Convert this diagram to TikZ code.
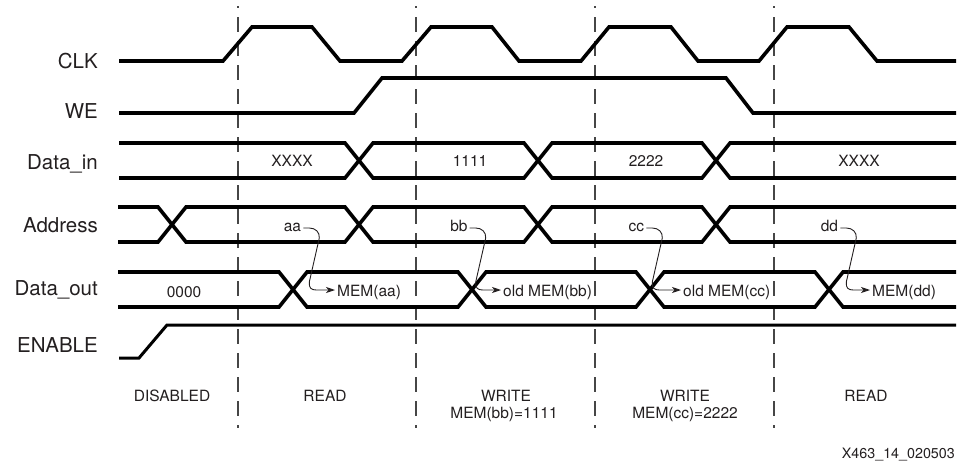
\documentclass[tikz,border=0pt]{standalone}
\usepackage{fontspec}
\setmainfont{TeX Gyre Heros}
\usetikzlibrary{arrows.meta,calc}
\definecolor{ink}{RGB}{35,31,32}
\definecolor{guide}{RGB}{70,70,70}
\begin{document}
\begin{tikzpicture}[x=1pt,y=-1pt,
  sig/.style={line width=3.6pt, black, line join=miter},
  ensig/.style={line width=3pt, black, line join=miter},
  guideline/.style={line width=1.4pt, guide, dash pattern=on 15pt off 9pt, dash phase=13pt},
  siglabel/.style={text=ink, font=\fontsize{20.5}{24}\selectfont, anchor=base east, inner sep=0pt},
  val/.style={text=ink, font=\fontsize{15.5}{18}\selectfont, anchor=base, inner sep=2pt},
  valw/.style={val, anchor=base west},
  vale/.style={val, anchor=base east},
  arr/.style={line width=0.9pt, ink, line join=round, -{Stealth[length=9pt,width=6pt,inset=2.5pt]}}
]
\useasboundingbox (0,0) rectangle (961,461);

% guide lines
\foreach \gx in {238,416,595,774}
  \draw[guideline] (\gx,6) -- (\gx,428);

% signal labels
\node[siglabel] (lclk)  at (98,68)  {CLK};
\node[siglabel] (lwe)   at (98,118) {WE};
\node[siglabel] (ldin)  at (98,169) {Data\_in};
\node[siglabel] (laddr) at (98,232) {Address};
\node[siglabel] (ldout) at (98,295) {Data\_out};
\node[siglabel] (len)   at (98,352) {ENABLE};

% CLK
\draw[sig] (119,61) -- (223,61) -- (252,27) -- (312,27) -- (340,61) -- (402,61) -- (431,27)
  -- (492,27) -- (519,61) -- (581,61) -- (609,27) -- (671,27) -- (698,61) -- (759,61)
  -- (787,27) -- (849,27) -- (877,61) -- (956,61);

% WE
\draw[sig] (119,113) -- (354,113) -- (382,78) -- (726,78) -- (753,113) -- (956,113);

% Data_in
\draw[sig] (119,143) -- (345,143) -- (373,178) -- (524,178) -- (552,143) -- (702,143) -- (730,178) -- (956,178);
\draw[sig] (119,178) -- (345,178) -- (373,143) -- (524,143) -- (552,178) -- (702,178) -- (730,143) -- (956,143);

% Address
\draw[sig] (118,207) -- (158,207) -- (186,242) -- (345,242) -- (373,207) -- (524,207) -- (552,242) -- (702,242) -- (730,207) -- (956,207);
\draw[sig] (118,242) -- (158,242) -- (186,207) -- (345,207) -- (373,242) -- (524,242) -- (552,207) -- (702,207) -- (730,242) -- (956,242);

% Data_out
\draw[sig] (118,272) -- (279,272) -- (307,307) -- (458,307) -- (486,272) -- (636,272) -- (664,307) -- (815,307) -- (843,272) -- (956,272);
\draw[sig] (118,307) -- (279,307) -- (307,272) -- (458,272) -- (486,307) -- (636,307) -- (664,272) -- (815,272) -- (843,307) -- (956,307);

% ENABLE
\draw[ensig] (119,358) -- (139,358) -- (167,325) -- (956,325);

% Data_in values
\node[val] (dx1) at (292,166) {XXXX};
\node[val] (d1)  at (470,166) {1111};
\node[val] (d2)  at (646,166) {2222};
\node[val] (dx2) at (859,166) {XXXX};

% Address values
\node[vale] (aa) at (303.3,231) {aa};
\node[vale] (bb) at (469.7,231) {bb};
\node[vale] (cc) at (646.3,231) {cc};
\node[vale] (dd) at (840.3,231) {dd};

% Data_out values
\node[val]  (d0)    at (184,297) {0000};
\node[valw] (memaa) at (335,296) {MEM(aa)};
\node[valw] (ombb)  at (501,296) {old MEM(bb)};
\node[valw] (omcc)  at (681,296) {old MEM(cc)};
\node[valw] (memdd) at (870,296) {MEM(dd)};

% arrows
\foreach \s/\t in {aa/memaa, bb/ombb, cc/omcc, dd/memdd}
  \draw[arr] ([yshift=3pt]\s.base east) -- ++(6,0)
     .. controls +(6,0) and +(0.5,-6) .. ++(10,10)
     -- ++(-10,44)
     .. controls +(-0.5,6) and +(-5,0) .. ++(7,8)
     -- ([yshift=6pt]\t.base west);

% phase labels
\node[val] (ph1)  at (172,401) {DISABLED};
\node[val] (ph2)  at (325,401) {READ};
\node[val] (ph3)  at (506,401) {WRITE};
\node[val] (ph3b) at (504,418) {MEM(bb)=1111};
\node[val] (ph4)  at (685,401) {WRITE};
\node[val] (ph4b) at (685,418) {MEM(cc)=2222};
\node[val] (ph5)  at (866,401) {READ};

\node[text=ink, font=\fontsize{14.3}{17}\selectfont, anchor=base east, inner sep=0pt] (fig) at (955,458) {X463\_14\_020503};
\end{tikzpicture}
\end{document}
